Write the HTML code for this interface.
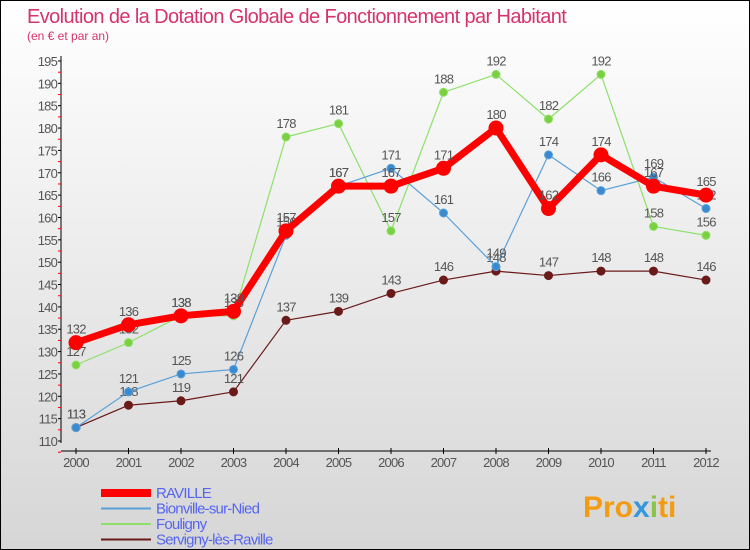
<!DOCTYPE html>
<html><head><meta charset="utf-8"><style>
body{margin:0;width:750px;height:550px;overflow:hidden;font-family:"Liberation Sans",sans-serif}
#root{position:relative;width:748px;height:548px;border:1px solid #000;background:linear-gradient(#fff,#d6d6d6)}
</style></head><body>
<div id="root">
<svg id="svg" width="748" height="548" xmlns="http://www.w3.org/2000/svg" style="position:absolute;left:0;top:0">
<text x="26" y="22" font-size="20" fill="#d6336c" letter-spacing="-0.6">Evolution de la Dotation Globale de Fonctionnement par Habitant</text>
<text x="26" y="39" font-size="12" fill="#d6336c">(en € et par an)</text>
<g id="axes"></g><g id="series"></g><g id="legend"></g>
<text x="582" y="516" font-size="30" font-weight="bold" fill="#f39c12">Pro<tspan fill="#3498db">x</tspan><tspan fill="#8bc34a">i</tspan>ti</text>
</svg>
</div>
<script>
const years=[2000,2001,2002,2003,2004,2005,2006,2007,2008,2009,2010,2011,2012];
const yTicks=[110,115,120,125,130,135,140,145,150,155,160,165,170,175,180,185,190,195];
const raville=[132,136,138,139,157,167,167,171,180,162,174,167,165];
const bionville=[113,121,125,126,156,167,171,161,149,174,166,169,162];
const fouligny=[127,132,138,138,178,181,157,188,192,182,192,158,156];
const servigny=[113,118,119,121,137,139,143,146,148,147,148,148,146];
const seriesNames=["RAVILLE","Bionville-sur-Nied","Fouligny","Servigny-lès-Raville"];
const NS="http://www.w3.org/2000/svg";
const xS=i=>75+i*52.5;
const yS=v=>440-(v-110)*(380/85);
function mk(tag,attrs,parent){const e=document.createElementNS(NS,tag);for(const k in attrs)e.setAttribute(k,attrs[k]);parent.appendChild(e);return e;}
const axes=document.getElementById('axes');
let a=mk('line',{x1:60,y1:55,x2:60,y2:442,stroke:'#000','stroke-width':1},axes);


a=mk('line',{x1:60,y1:450,x2:710,y2:450,stroke:'#000','stroke-width':1},axes);


yTicks.forEach(v=>{const y=yS(v);
 mk('line',{x1:57,y1:y,x2:60,y2:y,stroke:'#000'},axes);
 mk('line',{x1:57,y1:y+11.2,x2:60,y2:y+11.2,stroke:'#f00'},axes);
 const t=mk('text',{x:56,y:y+5,'font-size':13,fill:'#555','text-anchor':'end','letter-spacing':'-0.8'},axes);t.textContent=v;
 
 
});
years.forEach((yr,i)=>{const x=xS(i);
 mk('line',{x1:x,y1:447,x2:x,y2:453,stroke:'#000'},axes);
 const t=mk('text',{x:x,y:466,'font-size':13,fill:'#555','text-anchor':'middle','letter-spacing':'-0.8'},axes);t.textContent=yr;
 
 
});
const sg=document.getElementById('series');
function draw(vals,color,w,r,name,dot){
 const g=mk('g',{},sg);
 
 
 mk('polyline',{points:vals.map((v,i)=>xS(i)+','+yS(v)).join(' '),fill:'none',stroke:color,'stroke-width':w,'stroke-linejoin':'round'},g);
 vals.forEach((v,i)=>{const c=mk('circle',{cx:xS(i),cy:yS(v),r:r,fill:dot,stroke:color,'stroke-width':1},g);
  
  
  const t=mk('text',{x:xS(i),y:yS(v)-9,'font-size':13,fill:'#555','text-anchor':'middle','letter-spacing':'-0.8'},g);t.textContent=v;
  
  
 });
}
draw(servigny,'#6b1a1a',1.2,4,'series-servigny','#6b1a1a');
draw(fouligny,'#8ee06a',1.2,4,'series-fouligny','#7ad040');
draw(bionville,'#5aa0d8',1.2,4,'series-bionville','#3a8ad0');
draw(raville,'#f00',7,7,'series-raville','#f00');
const lg=document.getElementById('legend');
const lc=['#f00','#5aa0d8','#8ee06a','#6b1a1a'],lw=[8,2,2,2];
seriesNames.forEach((n,i)=>{const y=492+i*15.5;
 const g=mk('g',{},lg);
 
 
 mk('line',{x1:100,y1:y,x2:150,y2:y,stroke:lc[i],'stroke-width':lw[i]},g);
 const t=mk('text',{x:155,y:y+5,'font-size':15,fill:'#5566ee','letter-spacing':'-0.8'},g);t.textContent=n;
});
</script>
</body></html>
